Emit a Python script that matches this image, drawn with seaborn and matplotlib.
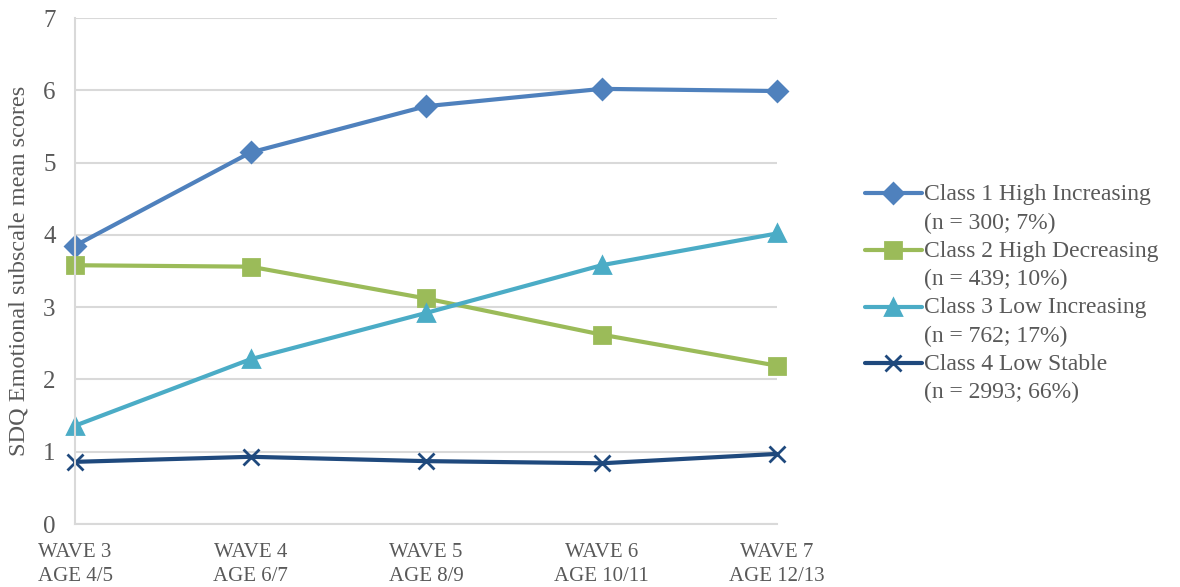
import pandas as pd
import matplotlib
matplotlib.use('Agg')
import matplotlib.pyplot as plt
from matplotlib.legend_handler import HandlerLine2D
import seaborn as sns

# Values
waves = ['WAVE 3\nAGE 4/5', 'WAVE 4\nAGE 6/7', 'WAVE 5\nAGE 8/9', 'WAVE 6\nAGE 10/11', 'WAVE 7\nAGE 12/13']
class_names = ['Class 1 High Increasing\n(n = 300; 7%)',
               'Class 2 High Decreasing\n(n = 439; 10%)',
               'Class 3 Low Increasing\n(n = 762; 17%)',
               'Class 4 Low Stable\n(n = 2993; 66%)']
class1 = [3.85, 5.14, 5.78, 6.02, 5.99]
class2 = [3.58, 3.56, 3.12, 2.62, 2.19]
class3 = [1.36, 2.28, 2.92, 3.58, 4.02]
class4 = [0.86, 0.93, 0.87, 0.84, 0.97]

colors = ['#4F81BD', '#9BBB59', '#4BACC6', '#1F497D']
markers = ['D', 's', '^', 'x']
msizes = [10, 12, 12, 11]


# legend handle sits on the first line of a two-line label
class FirstLineHandler(HandlerLine2D):
    def create_artists(self, legend, orig_handle, xdescent, ydescent, width, height, fontsize, trans):
        return super().create_artists(legend, orig_handle, xdescent, ydescent - 22,
                                      width, height, fontsize, trans)


sns.set_style('white')
plt.rcParams['font.family'] = ['Liberation Serif', 'DejaVu Serif']
grey = '#595959'

fig = plt.figure(figsize=(11.8, 5.87), dpi=100)
ax = fig.add_axes([0.0636, 0.1073, 0.595, 0.862])

for name, vals, c, m, ms in zip(class_names, [class1, class2, class3, class4], colors, markers, msizes):
    d = pd.DataFrame({'wave': range(len(vals)), 'score': vals})
    sns.lineplot(data=d, x='wave', y='score', color=c, marker=m, markersize=ms,
                 markeredgecolor=c, markeredgewidth=2, linewidth=3, label=name,
                 clip_on=False, ax=ax)

ax.set_xlim(0, 4)
ax.set_ylim(0, 7)
ax.set_yticks(range(0, 8))
ax.set_xticks(range(5))
ax.set_xticklabels(waves, fontsize=15, color=grey, linespacing=1.3)
ax.tick_params(axis='y', labelsize=18, colors=grey, length=0, pad=14)
ax.tick_params(axis='x', length=0, pad=14)
ax.grid(axis='y', color='#D9D9D9', linewidth=1.5)
ax.set_axisbelow(True)
for s in ['top', 'right']:
    ax.spines[s].set_visible(False)
ax.spines['left'].set_color('#D9D9D9')
ax.spines['bottom'].set_color('#D9D9D9')
ax.spines['left'].set_linewidth(1.5)
ax.spines['bottom'].set_linewidth(1.5)
ax.set_xlabel('')
ax.set_ylabel('SDQ Emotional subscale mean scores', fontsize=17.5, color=grey, labelpad=10)

handles, labels = ax.get_legend_handles_labels()
leg = ax.legend(handles, labels, loc='center left', bbox_to_anchor=(1.095, 0.455),
                frameon=False, fontsize=17, labelcolor=grey, handlelength=2.4,
                handletextpad=0.1, labelspacing=0.3,
                handler_map={h: FirstLineHandler() for h in handles})
for t in leg.get_texts():
    t.set_linespacing(1.45)

fig.savefig('out.png', dpi=100)
